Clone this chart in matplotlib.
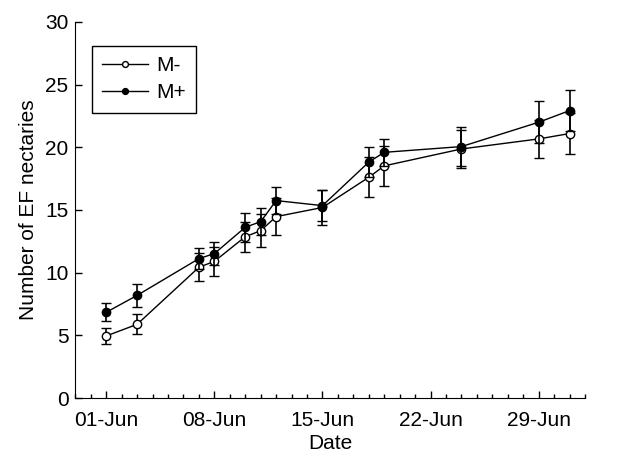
import numpy as np
import pandas as pd
import matplotlib
matplotlib.use("Agg")
import matplotlib.pyplot as plt
import matplotlib.dates as mdates

plt.rcParams["font.family"] = ["Liberation Sans", "DejaVu Sans"]

DATES = ["06-01", "06-03", "06-07", "06-08", "06-10", "06-11", "06-12",
         "06-15", "06-18", "06-19", "06-24", "06-29", "07-01"]
M_MINUS     = [4.95, 5.88, 10.43, 10.9, 12.87, 13.35, 14.47, 15.2, 17.61, 18.52, 19.87, 20.67, 21.1]
M_MINUS_ERR = [0.65, 0.8, 1.1, 1.15, 1.2, 1.3, 1.46, 1.4, 1.6, 1.6, 1.5, 1.5, 1.65]
M_PLUS      = [6.84, 8.19, 11.12, 11.52, 13.62, 14.07, 15.75, 15.35, 18.82, 19.6, 20.06, 22.0, 22.93]
M_PLUS_ERR  = [0.72, 0.9, 0.83, 0.93, 1.14, 1.1, 1.1, 1.25, 1.2, 1.07, 1.55, 1.66, 1.65]
TICK_DATES  = ["06-01", "06-08", "06-15", "06-22", "06-29"]

dates = pd.to_datetime(["2010-" + d for d in DATES])
ticks = pd.to_datetime(["2010-" + d for d in TICK_DATES])

FS = 15

fig = plt.figure(figsize=(6.23, 4.58), dpi=100)
ax = fig.add_axes([0.121, 0.131, 0.818, 0.821])

common = dict(color="black", lw=1.0, ms=6, capsize=3.5, capthick=1.2,
              elinewidth=1.2, markeredgewidth=1.0)
ax.errorbar(dates, M_MINUS, yerr=M_MINUS_ERR, fmt="-o", mfc="white",
            mec="black", label="M-", zorder=2, **common)
ax.errorbar(dates, M_PLUS, yerr=M_PLUS_ERR, fmt="-o", mfc="black",
            mec="black", label="M+", zorder=3, **common)

ax.set_xlim(pd.Timestamp("2010-05-30"), pd.Timestamp("2010-07-02"))
ax.set_ylim(0, 30)
ax.set_yticks(np.arange(0, 31, 5))

ax.set_xticks(ticks)
ax.xaxis.set_minor_locator(mdates.DayLocator())
ax.xaxis.set_major_formatter(mdates.DateFormatter("%d-%b"))

ax.spines[["top", "right"]].set_visible(False)
ax.tick_params(axis="both", which="major", direction="in", length=5,
               width=1.0, labelsize=FS)
ax.tick_params(axis="x", which="major", pad=9)
ax.tick_params(axis="y", which="major", pad=5)
ax.tick_params(axis="x", which="minor", direction="in", length=3, width=1.0)

ax.set_xlabel("Date", fontsize=FS, labelpad=3)
ax.set_ylabel("Number of EF nectaries", fontsize=FS, labelpad=5)

handles, labels = ax.get_legend_handles_labels()
handles = [h[0] for h in handles]
leg = ax.legend(handles, labels, loc="upper left", bbox_to_anchor=(0.032, 0.937),
                borderaxespad=0, fontsize=FS, frameon=True, fancybox=False,
                framealpha=1, edgecolor="black", handlelength=2.2,
                handletextpad=0.4, borderpad=0.5, labelspacing=0.4,
                markerscale=0.7)
leg.get_frame().set_linewidth(1.0)

fig.savefig("out.png", dpi=100)
